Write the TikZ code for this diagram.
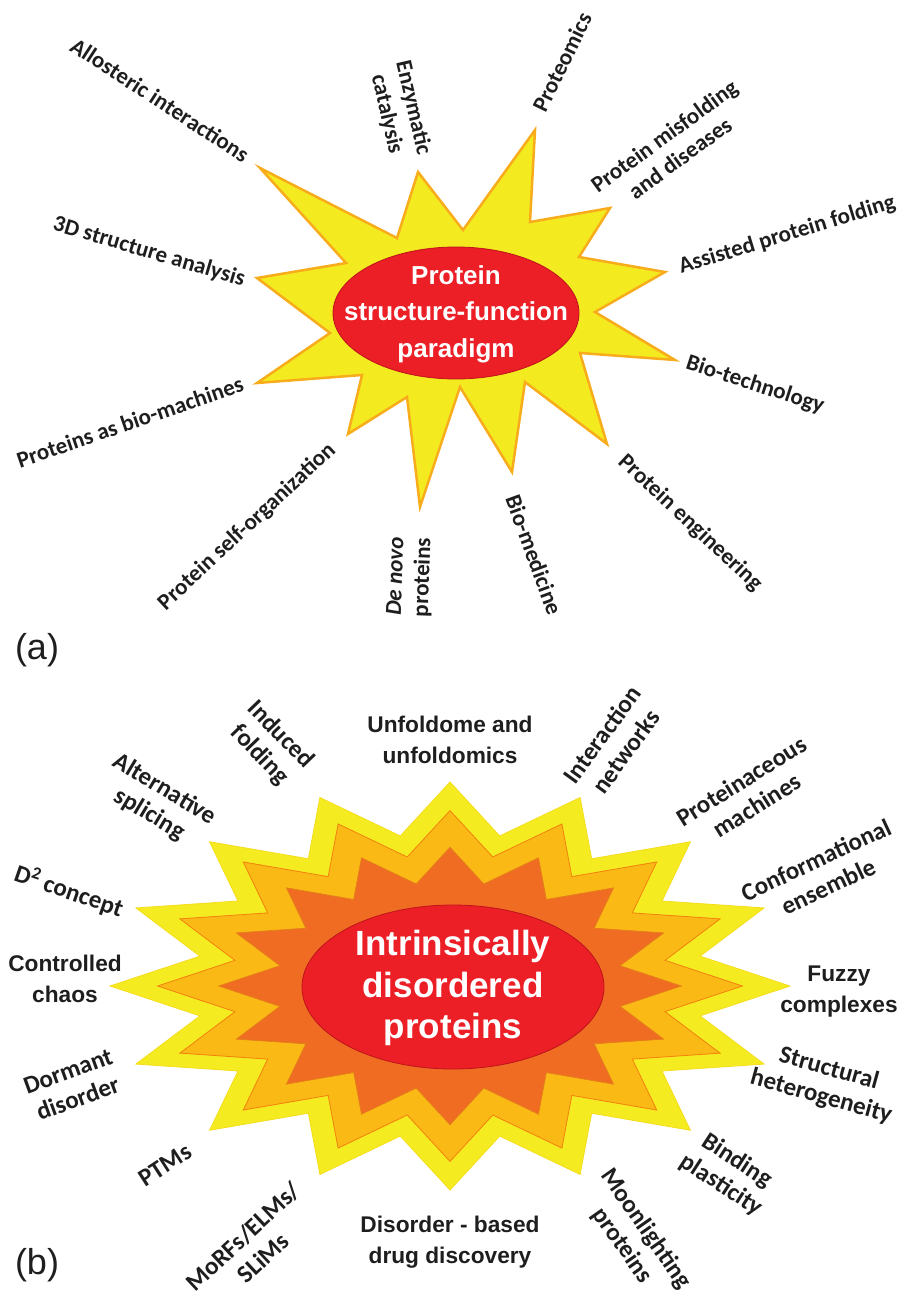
\documentclass[tikz,border=0pt]{standalone}
\usepackage{fontspec}
\setmainfont{Liberation Sans}
\newfontfamily\calib{Carlito}

\definecolor{txt}{RGB}{30,30,30}
\definecolor{staryel}{RGB}{243,234,31}
\definecolor{starline}{RGB}{248,172,28}
\definecolor{corered}{RGB}{236,30,38}
\definecolor{coreline}{RGB}{190,20,28}
\definecolor{burstyel}{RGB}{244,236,32}
\definecolor{burstmid}{RGB}{251,185,22}
\definecolor{burstin}{RGB}{240,108,34}

\begin{document}
\begin{tikzpicture}[x=1pt, y=-1pt,
    lbl/.style={font=\calib\bfseries\fontsize{23}{27}\selectfont, text=txt, align=center, inner sep=0pt},
    lblb/.style={font=\calib\bfseries\fontsize{25}{29}\selectfont, text=txt, align=center, inner sep=0pt},
    arl/.style={font=\bfseries\fontsize{22.7}{31}\selectfont, text=txt, align=center, inner sep=0pt},
    tag/.style={font=\fontsize{36}{36}\selectfont, text=txt, inner sep=0pt},
    core/.style={fill=corered, draw=coreline, line width=0.8},
    coretext/.style={text=white, align=center, inner sep=0pt},
    starA/.style={fill=staryel, draw=starline, line width=2.5, line join=miter},
]
\useasboundingbox (0,0) rectangle (904,1297);

% (a) star
\filldraw[starA] (260,168) -- (397,238) -- (418,172) -- (463,230) -- (535,130) -- (530,222)
  -- (610,208) -- (579,257) -- (665,272) -- (595,312) -- (675,360) -- (580,353)
  -- (607,444) -- (525,382) -- (512,472) -- (460,387) -- (420,507) -- (407,397)
  -- (348,434) -- (362,375) -- (257,383) -- (330,333) -- (257,278) -- (346,263) -- cycle;

\filldraw[core] (456,313) ellipse [x radius=123, y radius=66];
\node[coretext, font=\bfseries\fontsize{26}{36.5}\selectfont]
  (paraA) at (456,314) {Protein\\structure-function\\paradigm};

% (a) labels
\node[lbl, rotate=-33] (allo) at (160,100) {Allosteric interactions};
\node[lbl, rotate=-77] (enzy) at (400,111) {Enzymatic\\catalysis};
\node[lbl, rotate=64] (prot) at (562,62) {Proteomics};
\node[lbl, rotate=36] (misf) at (672,147) {Protein misfolding\\and diseases};
\node[lbl, rotate=17] (assi) at (787,235) {Assisted protein folding};
\node[lbl, rotate=-18] (biot) at (755,385) {Bio-technology};
\node[lbl, rotate=-43] (peng) at (690,523) {Protein engineering};
\node[lbl, rotate=-70] (biom) at (534,555) {Bio-medicine};
\node[lbl, rotate=88] (deno) at (410,577) {{\itshape De novo}\\proteins};
\node[lbl, rotate=43] (self) at (247,527) {Protein self-organization};
\node[lbl, rotate=19] (mach) at (130,422) {Proteins as bio-machines};
\node[lbl, rotate=-16.5] (anal) at (149,252) {3D structure analysis};

\node[tag] (tagA) at (37,650) {(a)};

% (b) burst, three layers
\foreach \s/\c/\d in {1/burstyel/burstyel!85!orange, 0.86/burstmid/orange!80!brown, 0.68/burstin/orange!60!brown} {
  \filldraw[fill=\c, draw=\d, line width=0.8, line join=miter] ({450+340*\s},986)
    \foreach \k [evaluate=\k as \r using {\s*(1-0.25*mod(\k,2))}] in {1,...,31} {
      -- ({450+340*\r*cos(\k*11.25)},{986-204*\r*sin(\k*11.25)})
    } -- cycle;
}

\filldraw[core] (453,987) ellipse [x radius=151, y radius=82];
\node[coretext, font=\bfseries\fontsize{35}{41.6}\selectfont]
  (idp) at (453,988) {Intrinsically\\disordered\\proteins};

% (b) labels
\node[arl] (unfo) at (450,740) {Unfoldome and\\unfoldomics};
\node[lblb, rotate=54] (netw) at (614,743) {Interaction\\networks};
\node[lblb, rotate=32] (mchn) at (749,793) {Proteinaceous\\machines};
\node[lblb, rotate=25] (ense) at (822,873) {Conformational\\ensemble};
\node[arl] (fuzz) at (839,992) {Fuzzy\\complexes};
\node[lblb, rotate=-15.5] (hete) at (825,1083) {Structural\\heterogeneity};
\node[lblb, rotate=-33] (bind) at (729,1173) {Binding\\plasticity};
\node[lblb, rotate=-55] (moon) at (634,1237) {Moonlighting\\proteins};
\node[arl] (drug) at (450,1242) {Disorder - based\\drug discovery};
\node[lblb, rotate=43] (morf) at (253,1247) {MoRFs/ELMs/\\SLiMs};
\node[lblb, rotate=33] (ptms) at (165,1165) {PTMs};
\node[lblb, rotate=20] (dorm) at (73,1085) {Dormant\\disorder};
\node[arl] (chao) at (65,979) {Controlled\\chaos};
\node[lblb, rotate=-19] (dcon) at (69,891) {D\textsuperscript{2} concept};
\node[lblb, rotate=-31] (spli) at (157,802) {Alternative\\splicing};
\node[lblb, rotate=-46] (indu) at (270,745) {Induced\\folding};

\node[tag] (tagB) at (37,1265) {(b)};

\end{tikzpicture}
\end{document}
